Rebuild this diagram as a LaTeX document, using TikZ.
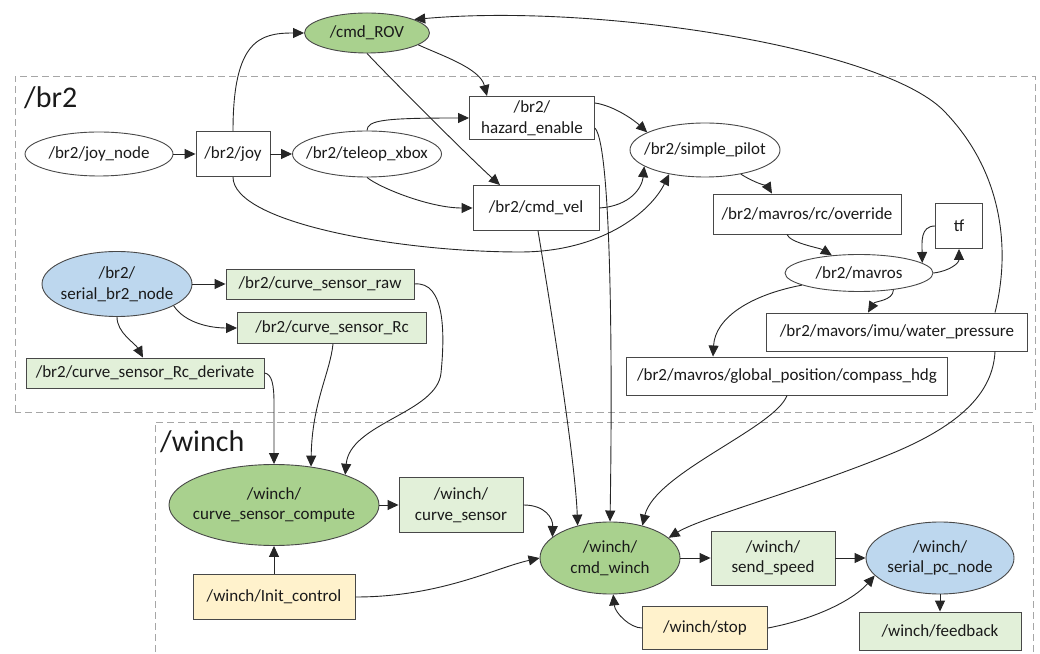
\documentclass[tikz,border=0pt]{standalone}
\usepackage{fontspec}
\setmainfont{Carlito}
\usetikzlibrary{shapes.geometric,arrows.meta}
\definecolor{gfill}{HTML}{A9D18E}
\definecolor{lgfill}{HTML}{E2F0D9}
\definecolor{bfill}{HTML}{BDD7EE}
\definecolor{yfill}{HTML}{FFF2CC}
\definecolor{bord}{HTML}{484848}
\definecolor{txtc}{HTML}{1A1A1A}
\definecolor{clus}{HTML}{A6A6A6}
\begin{document}
\begin{tikzpicture}[x=1pt,y=1pt,
 txt/.style={font=\fontsize{17}{20.5}\selectfont, text=txtc, align=center, inner sep=0pt},
 sz/.style 2 args={minimum width=#1pt, minimum height=#2pt},
 box/.style={draw=bord, line width=0.9pt, rectangle, fill=white, txt},
 ell/.style={draw=bord, line width=0.9pt, ellipse, fill=white, inner sep=0pt},
 gbox/.style={box, fill=lgfill}, ybox/.style={box, fill=yfill},
 gell/.style={ell, fill=gfill}, bell/.style={ell, fill=bfill},
 conn/.style={draw=black!85, line width=0.9pt, -{Triangle[length=11pt,width=10pt]}},
 cluster/.style={draw=clus, line width=0.9pt, dash pattern=on 7pt off 4pt},
 clab/.style={font=\fontsize{30}{36}\selectfont, text=txtc, inner sep=0pt, anchor=base west}]
\useasboundingbox (0,0) rectangle (1040,653);
\clip (0,0) rectangle (1040,653);
% clusters
\draw[cluster] (15,241) rectangle (1035,577);
\draw[cluster] (155,-10) rectangle (1033,231);
\node[clab] (br2lbl) at (24,545) {/br2};
\node[clab] (winchlbl) at (160,201) {/winch};
% nodes
\node[gell, sz={125}{40}] (cmdrov) at (367,620) {};
\node[txt] (cmdrov-t) at (cmdrov) {/cmd\_ROV};
\node[ell, sz={148}{44}] (joynode) at (99,499) {};
\node[txt] (joynode-t) at (joynode) {/br2/joy\_node};
\node[box, sz={74}{45}] (joy) at (233,499) {/br2/joy};
\node[ell, sz={149}{46}] (teleop) at (367,499) {};
\node[txt] (teleop-t) at (teleop) {/br2/teleop\_xbox};
\node[box, sz={125}{43}] (hz) at (532,535) {/br2/\\hazard\_enable};
\node[box, sz={126}{45}] (cmdvel) at (536,445) {/br2/cmd\_vel};
\node[ell, sz={150}{54}] (pilot) at (705,503) {};
\node[txt] (pilot-t) at (pilot) {/br2/simple\_pilot};
\node[box, sz={188}{40}] (rc) at (807,439) {/br2/mavros/rc/override};
\node[box, sz={47}{45}] (tf) at (959,427) {tf};
\node[ell, sz={148}{37}] (mavros) at (859,380) {};
\node[txt] (mavros-t) at (mavros) {/br2/mavros};
\node[box, sz={261}{38}] (water) at (897,321) {/br2/mavors/imu/water\_pressure};
\node[box, sz={321}{38}] (compass) at (787,277) {/br2/mavros/global\_position/compass\_hdg};
\node[bell, sz={150}{65}] (sbr2) at (117,369) {};
\node[txt] (sbr2-t) at (sbr2) {/br2/\\serial\_br2\_node};
\node[gbox, sz={188}{30}] (raw) at (320,369) {/br2/curve\_sensor\_raw};
\node[gbox, sz={189}{31}] (rcs) at (332,325) {/br2/curve\_sensor\_Rc};
\node[gbox, sz={238}{30}] (deriv) at (145,280) {/br2/curve\_sensor\_Rc\_derivate};
\node[gell, sz={210}{81}] (csc) at (274,148) {};
\node[txt] (csc-t) at (csc) {/winch/\\curve\_sensor\_compute};
\node[gbox, sz={124}{55}] (cs) at (461,148) {/winch/\\curve\_sensor};
\node[ybox, sz={162}{45}] (init) at (274,56) {/winch/Init\_control};
\node[gell, sz={140}{72}] (cmdw) at (610,95) {};
\node[txt] (cmdw-t) at (cmdw) {/winch/\\cmd\_winch};
\node[gbox, sz={124}{54}] (speed) at (773,95) {/winch/\\send\_speed};
\node[bell, sz={148}{72}] (spc) at (940,95) {};
\node[txt] (spc-t) at (spc) {/winch/\\serial\_pc\_node};
\node[ybox, sz={125}{43}] (stop) at (705,25) {/winch/stop};
\node[gbox, sz={162}{38}] (fb) at (940,22) {/winch/feedback};
% connectors
\draw[conn] (joynode) -- (joy);
\draw[conn] (joy) -- (teleop);
\draw[conn] (joy.north) .. controls (233,613) and (260,620) .. (cmdrov.west);
\draw[conn] (joy.south) .. controls (233,430) and (400,401) .. (520,401) .. controls (600,401) and (650,440) .. (pilot.214);
\draw[conn] (teleop.north) .. controls (367,533) and (385,535) .. (hz.west);
\draw[conn] (teleop.south) .. controls (380,465) and (430,445) .. (cmdvel.west);
\draw[conn] (cmdrov.-13) .. controls (440,598) and (480,585) .. ([xshift=-45pt]hz.north);
\draw[conn] (cmdrov.south) .. controls (390,575) and (470,495) .. ([xshift=-36pt]cmdvel.north);
\draw[conn] ([yshift=15pt]hz.east) .. controls (615,547) and (635,532) .. (pilot.163);
\draw[conn] (cmdvel.east) .. controls (630,447) and (642,465) .. (pilot.195);
\draw[conn] ([yshift=-10pt]hz.east) .. controls (613,505) and (612,250) .. (cmdw.north);
\draw[conn] ([xshift=2pt]cmdvel.south) .. controls (545,380) and (575,200) .. (cmdw.135);
\draw[conn] (pilot.-34) .. controls (755,470) and (768,466) .. ([xshift=-35pt]rc.north);
\draw[conn] ([xshift=-20pt]rc.south) .. controls (790,410) and (820,405) .. (mavros.147);
\draw[conn] (mavros.east) .. controls (950,382) and (959,390) .. (tf.south);
\draw[conn] (tf.west) .. controls (920,427) and (922,410) .. (mavros.9);
\draw[conn] (mavros.-26) .. controls (893,352) and (875,352) .. ([xshift=-29pt]water.north);
\draw[conn] (mavros.192) .. controls (750,358) and (715,335) .. ([xshift=-74pt]compass.north);
\draw[conn] ([xshift=98pt]water.north) .. controls (1010,400) and (1005,480) .. (943,543) .. controls (880,605) and (600,650) .. (cmdrov.16);
\draw[conn] ([xshift=98pt]water.south) .. controls (993,260) and (960,228) .. (893,200) .. controls (806,164) and (700,135) .. (cmdw.19);
\draw[conn] (compass.south) .. controls (775,225) and (655,180) .. (cmdw.45);
\draw[conn] (sbr2) -- (raw);
\draw[conn] (sbr2.-21) .. controls (185,330) and (210,325) .. (rcs.west);
\draw[conn] (sbr2.south) .. controls (117,320) and (135,310) .. ([xshift=-2pt]deriv.north);
\draw[conn] (raw.east) .. controls (445,372) and (445,320) .. (441,280) .. controls (437,240) and (350,230) .. (csc.23);
\draw[conn] ([xshift=1pt]rcs.south) .. controls (330,280) and (312,250) .. (csc.46);
\draw[conn] (deriv.east) .. controls (272,279) and (274,268) .. (274,250) -- (csc.north);
\draw[conn] (csc) -- (cs);
\draw[conn] (cs.east) .. controls (545,148) and (553,135) .. (cmdw.160);
\draw[conn] (init) -- (csc);
\draw[conn] (init.east) .. controls (440,56) and (495,85) .. (cmdw.west);
\draw[conn] (cmdw) -- (speed);
\draw[conn] (speed) -- (spc);
\draw[conn] (spc) -- (fb);
\draw[conn] (stop.west) .. controls (630,25) and (615,40) .. (cmdw.-85);
\draw[conn] (stop.east) .. controls (820,35) and (855,55) .. (spc.195);
\end{tikzpicture}
\end{document}
